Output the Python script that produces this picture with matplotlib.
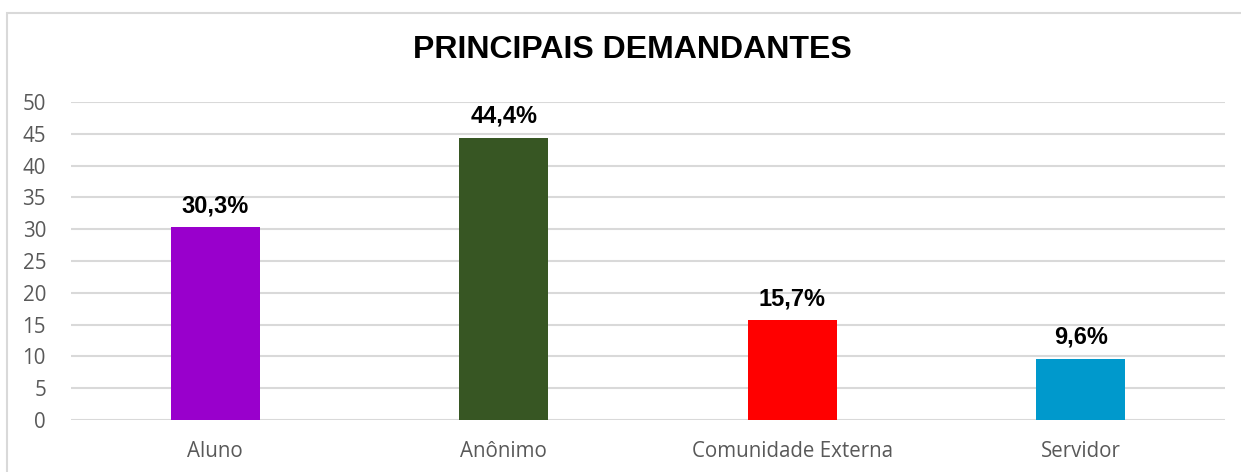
import matplotlib.pyplot as plt
import matplotlib.patches as mpatches

# Data
categories = ['Aluno', 'Anônimo', 'Comunidade Externa', 'Servidor']
values = [30.3, 44.4, 15.7, 9.6]
labels = ['30,3%', '44,4%', '15,7%', '9,6%']
bar_colors = ['#9900CC', '#375623', '#FF0000', '#0099CC']
yticks = [0, 5, 10, 15, 20, 25, 30, 35, 40, 45, 50]

W, H = 1241, 472
fig = plt.figure(figsize=(W / 100, H / 100), dpi=100)
ax = fig.add_axes([71 / W, 1 - 420 / H, (1225 - 71) / W, (420 - 102) / H])

# outer chart border (cut off at right and bottom like the reference)
border = mpatches.Rectangle((7 / W, -0.1), 1.2, 1 - 13 / H + 0.1, transform=fig.transFigure,
                            fill=False, edgecolor='#D9D9D9', linewidth=1.5, zorder=0)
fig.patches.append(border)

x = range(len(categories))
bars = ax.bar(x, values, width=0.31, color=bar_colors, zorder=3)

for b, lab in zip(bars, labels):
    ax.text(b.get_x() + b.get_width() / 2, b.get_height() + 2.35, lab,
            ha='center', va='baseline', fontsize=17, fontweight='bold',
            family='Liberation Sans', color='black')

ax.set_xlim(-0.5, len(categories) - 0.5)
ax.set_ylim(0, 50)
ax.set_yticks(yticks)
ax.set_xticks(list(x))
ax.set_xticklabels(categories)
ax.yaxis.grid(True, color='#D9D9D9', linewidth=1.5, zorder=0)
ax.set_axisbelow(True)
for s in ax.spines.values():
    s.set_visible(False)
ax.tick_params(axis='both', length=0, labelsize=14.8, labelcolor='#595959')
ax.tick_params(axis='y', pad=18)
ax.tick_params(axis='x', pad=15)
for t in ax.get_xticklabels() + ax.get_yticklabels():
    t.set_family('Open Sans')

fig.text(632 / W, 1 - 50 / H, 'PRINCIPAIS DEMANDANTES', ha='center', va='center',
         fontsize=23, fontweight='bold', family='Liberation Sans', color='black')

fig.savefig('out.png', dpi=100)
